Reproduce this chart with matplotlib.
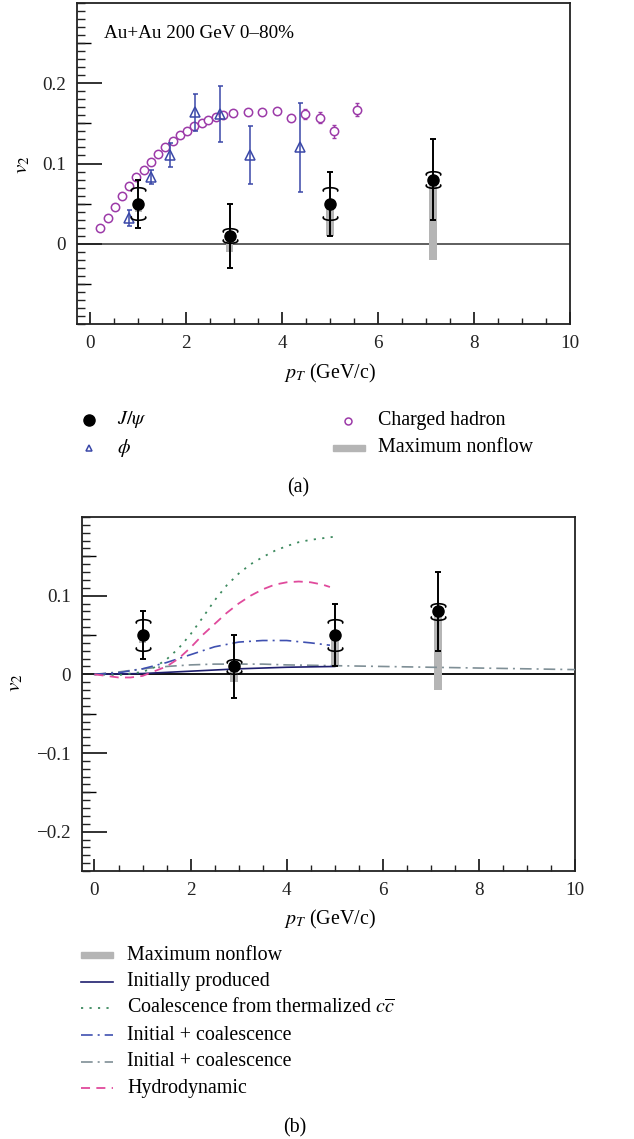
import numpy as np
import matplotlib
matplotlib.use("Agg")
import matplotlib.pyplot as plt
from matplotlib.path import Path
from matplotlib.patches import Rectangle
from matplotlib.ticker import MultipleLocator, FixedLocator

plt.rcParams['font.family'] = ['Liberation Serif', 'DejaVu Serif']
plt.rcParams['mathtext.fontset'] = 'stix'

# ---------------- data ----------------
jpsi_pt = [1.0, 2.9, 5.0, 7.15]
jpsi_v2 = [0.05, 0.01, 0.05, 0.08]
jpsi_err = [0.03, 0.04, 0.04, 0.05]
jpsi_sys = [0.018, 0.007, 0.018, 0.008]
nonflow_low = [0.04, -0.01, 0.01, -0.02]

phi_pt = [0.80, 1.26, 1.66, 2.19, 2.71, 3.33, 4.37]
phi_v2 = [0.032, 0.083, 0.111, 0.164, 0.162, 0.111, 0.120]
phi_err = [0.010, 0.009, 0.015, 0.023, 0.035, 0.036, 0.056]

ch_pt = [0.21, 0.36, 0.51, 0.66, 0.81, 0.96, 1.11, 1.26, 1.41, 1.56, 1.72, 1.87,
         2.02, 2.17, 2.32, 2.46, 2.61, 2.77, 2.98, 3.29, 3.58, 3.88, 4.18, 4.48,
         4.78, 5.08, 5.55]
ch_v2 = [0.020, 0.032, 0.046, 0.060, 0.072, 0.083, 0.092, 0.102, 0.112, 0.120,
         0.128, 0.135, 0.140, 0.147, 0.151, 0.154, 0.158, 0.161, 0.163, 0.164,
         0.164, 0.166, 0.157, 0.162, 0.157, 0.140, 0.167]
ch_err = [0, 0, 0, 0, 0, 0, 0, 0, 0, 0, 0, 0, 0, 0, 0, 0, 0, 0, 0, 0, 0, 0,
          0, 0.006, 0.007, 0.008, 0.008]

init_pt = [0, 1, 2, 3, 4, 5]
init_v2 = [0, 0.001, 0.004, 0.007, 0.009, 0.010]

coal_pt = [0, 0.5, 1.0, 1.25, 1.5, 1.75, 2.0, 2.25, 2.5, 2.75, 3.0, 3.25, 3.5,
           3.75, 4.0, 4.25, 4.5, 4.75, 5.0]
coal_v2 = [0, -0.001, 0.003, 0.009, 0.019, 0.033, 0.051, 0.072, 0.094, 0.113,
           0.128, 0.140, 0.149, 0.157, 0.163, 0.168, 0.171, 0.173, 0.175]

ic1_pt = [0, 0.5, 1.0, 1.5, 2.0, 2.5, 3.0, 3.5, 4.0, 4.5, 4.9]
ic1_v2 = [0, 0.002, 0.007, 0.015, 0.025, 0.035, 0.041, 0.043, 0.043, 0.040, 0.037]

ic2_pt = [0, 0.5, 1.0, 1.5, 2.0, 2.5, 3.0, 3.5, 4.0, 5.0, 6.0, 7.0, 8.0, 9.0, 10.0]
ic2_v2 = [0, 0.003, 0.007, 0.010, 0.012, 0.013, 0.013, 0.013, 0.012, 0.011,
          0.010, 0.009, 0.008, 0.007, 0.006]

hydro_pt = [0, 0.25, 0.5, 0.75, 1.0, 1.25, 1.5, 1.75, 2.0, 2.25, 2.5, 2.75, 3.0,
            3.25, 3.5, 3.75, 4.0, 4.25, 4.5, 4.75, 4.9]
hydro_v2 = [0, -0.002, -0.004, -0.004, -0.002, 0.004, 0.010, 0.020, 0.034, 0.050,
            0.064, 0.078, 0.090, 0.100, 0.108, 0.114, 0.117, 0.118, 0.117, 0.114,
            0.111]

# ---------------- styles ----------------
FS = 13.8
FL = 14.4
W, H = 634, 1139
PURPLE = '#9c3aa8'
PHIBLUE = '#3a48a8'
GRAY = '#b5b5b5'
C_INIT = '#1f1f6e'
C_COAL = '#3d8a5f'
C_IC1 = '#3f50b0'
C_IC2 = '#7f8f96'
C_HYD = '#e04a9c'

t = np.linspace(np.radians(205), np.radians(-25), 40)
yy = 0.36 * np.sin(t)
top_br = Path(np.column_stack([np.cos(t), yy - 0.12]))
bot_br = Path(np.column_stack([np.cos(t), -(yy - 0.12)]))

fig = plt.figure(figsize=(W / 100, H / 100), dpi=100)


def px_axes(l, r, top, bot):
    return fig.add_axes([l / W, 1 - bot / H, (r - l) / W, (bot - top) / H])


def style_axes(ax, ymajor, ylabels):
    for sp in ax.spines.values():
        sp.set_linewidth(1.3)
        sp.set_color('#222222')
    ax.xaxis.set_major_locator(MultipleLocator(2))
    ax.xaxis.set_minor_locator(MultipleLocator(0.5))
    ax.yaxis.set_major_locator(FixedLocator(ymajor))
    ax.yaxis.set_minor_locator(MultipleLocator(0.01))
    ax.set_yticklabels(ylabels)
    ax.tick_params(which='both', direction='in', top=False, right=False,
                   labelsize=FS, colors='#222222')
    ax.tick_params(axis='x', which='major', length=9, width=1.3, pad=8)
    ax.tick_params(axis='x', which='minor', length=4, width=1.0)
    ax.tick_params(axis='y', which='major', length=18, width=1.3, pad=8)
    ax.tick_params(axis='y', which='minor', length=6, width=1.0)
    lo, hi = ax.get_ylim()
    mids = [v for v in np.arange(-0.25, 0.3001, 0.1) if lo < v < hi]
    sec = ax.secondary_yaxis('left')
    sec.set_yticks(mids)
    sec.set_yticklabels([])
    sec.tick_params(direction='in', length=10, width=1.0)
    sec.spines['left'].set_visible(False)


def draw_jpsi(ax):
    ax.bar(jpsi_pt, np.array(jpsi_v2) - np.array(nonflow_low), bottom=nonflow_low,
           width=0.16, color=GRAY, zorder=2)
    ax.errorbar(jpsi_pt, jpsi_v2, yerr=jpsi_err, fmt='o', color='black', ms=8,
                elinewidth=1.4, capsize=2.5, capthick=1.4, zorder=5)
    ax.plot(jpsi_pt, np.array(jpsi_v2) + np.array(jpsi_sys), ls='none',
            marker=top_br, ms=10.5, mfc='none', mec='black', mew=1.2, zorder=6)
    ax.plot(jpsi_pt, np.array(jpsi_v2) - np.array(jpsi_sys), ls='none',
            marker=bot_br, ms=10.5, mfc='none', mec='black', mew=1.2, zorder=6)


# ---------------- panel (a) ----------------
ax1 = px_axes(77, 570, 3, 324)
ax1.set_xlim(-0.28, 10)
ax1.set_ylim(-0.1, 0.3)
ax1.axhline(0, color='#333333', lw=1.1, zorder=1)
ch_pt_a, ch_v2_a, ch_err_a = np.array(ch_pt), np.array(ch_v2), np.array(ch_err)
m = ch_err_a > 0
ax1.errorbar(ch_pt_a[m], ch_v2_a[m], yerr=ch_err_a[m], fmt='none', ecolor=PURPLE,
             elinewidth=1.0, capsize=1.5, zorder=3)
ax1.plot(ch_pt, ch_v2, 'o', ms=6, mfc='white', mec=PURPLE, mew=1.1, zorder=3)
ax1.errorbar(phi_pt, phi_v2, yerr=phi_err, fmt='^', ms=6.5, mfc='none', mec=PHIBLUE,
             mew=1.1, ecolor=PHIBLUE, elinewidth=1.1, capsize=1.8, zorder=4)
draw_jpsi(ax1)
style_axes(ax1, [0, 0.1, 0.2], ['0', '0.1', '0.2'])

# ---------------- panel (b) ----------------
ax2 = px_axes(82, 575, 517, 871)
ax2.set_xlim(-0.26, 10)
ax2.set_ylim(-0.25, 0.2)
ax2.axhline(0, color='black', lw=1.3, zorder=1)
ax2.plot(ic2_pt, ic2_v2, color=C_IC2, lw=1.2, dashes=[7, 3, 1.2, 3], zorder=3)
ax2.plot(init_pt, init_v2, color=C_INIT, lw=1.2, zorder=3)
ax2.plot(coal_pt, coal_v2, color=C_COAL, lw=1.3, dashes=[1.2, 3.5], zorder=3)
ax2.plot(ic1_pt, ic1_v2, color=C_IC1, lw=1.2, dashes=[7, 3, 1.2, 3], zorder=3)
ax2.plot(hydro_pt, hydro_v2, color=C_HYD, lw=1.3, dashes=[5, 3.5], zorder=3)
draw_jpsi(ax2)
style_axes(ax2, [-0.2, -0.1, 0, 0.1], ['−0.2', '−0.1', '0', '0.1'])


def ftext(x, y, s, **kw):
    fig.text(x / W, 1 - y / H, s, **kw)


ftext(104, 33, 'Au+Au 200 GeV 0–80%', fontsize=FS, va='center', ha='left')
ftext(23, 165, r'$v_2$', rotation=90, fontsize=FS + 1.5, ha='center', va='center')
ftext(16, 683, r'$v_2$', rotation=90, fontsize=FS + 1.5, ha='center', va='center')
ftext(330, 373, r'$p_T$ (GeV/c)', fontsize=FL, ha='center', va='center')
ftext(330, 919, r'$p_T$ (GeV/c)', fontsize=FL, ha='center', va='center')
ftext(298, 488, '(a)', fontsize=FL, ha='center', va='center')
ftext(295, 1128, '(b)', fontsize=FL, ha='center', va='center')

# ---------------- legends (pixel overlay) ----------------
lax = fig.add_axes([0, 0, 1, 1])
lax.set_xlim(0, W)
lax.set_ylim(H, 0)
lax.axis('off')

lax.plot([89], [420], 'o', color='black', ms=8)
lax.text(117, 420, r'$J/\psi$', fontsize=FL, va='center')
lax.plot([89], [448], '^', mfc='none', mec=PHIBLUE, mew=1.1, ms=5)
lax.text(117, 448, r'$\phi$', fontsize=FL, va='center')
lax.plot([348], [421], 'o', mfc='none', mec=PURPLE, mew=1.1, ms=5)
lax.text(378, 420, 'Charged hadron', fontsize=FL, va='center')
lax.add_patch(Rectangle((333, 445), 32, 6, color=GRAY))
lax.text(378, 448, 'Maximum nonflow', fontsize=FL, va='center')

rows = [955, 981.7, 1008.4, 1035, 1061.7, 1088.4]
lax.add_patch(Rectangle((81, rows[0] - 3), 32, 6, color=GRAY))
lax.plot([81, 113], [rows[1]] * 2, color=C_INIT, lw=1.2)
lax.plot([81, 113], [rows[2]] * 2, color=C_COAL, lw=1.3, dashes=[1.2, 3.5])
lax.plot([81, 113], [rows[3]] * 2, color=C_IC1, lw=1.2, dashes=[7, 3, 1.2, 3])
lax.plot([81, 113], [rows[4]] * 2, color=C_IC2, lw=1.2, dashes=[7, 3, 1.2, 3])
lax.plot([81, 113], [rows[5]] * 2, color=C_HYD, lw=1.3, dashes=[5, 3.5])
labels_b = ['Maximum nonflow', 'Initially produced',
            r'Coalescence from thermalized $c\overline{c}$',
            'Initial + coalescence', 'Initial + coalescence', 'Hydrodynamic']
for y, s_ in zip(rows, labels_b):
    lax.text(127, y, s_, fontsize=FL, va='center')

fig.savefig('out.png', dpi=100)
